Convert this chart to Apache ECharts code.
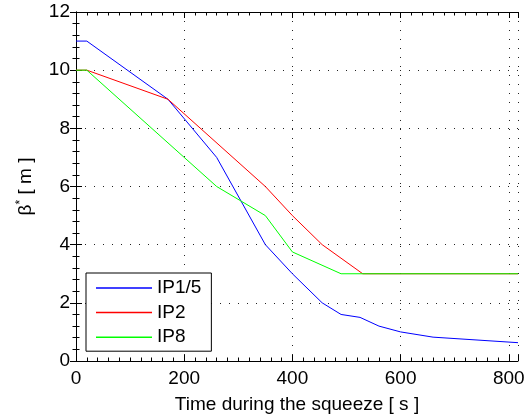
<!DOCTYPE html>
<html>
<head>
<meta charset="utf-8">
<script src="https://cdn.jsdelivr.net/npm/echarts@6/dist/echarts.min.js"></script>
<style>
    html, body { margin: 0; padding: 0; background: #fff; }
    #chart { width: 529px; height: 419px; }
</style>
</head>
<body>
<div id="chart"></div>
<script>
// beta* during the squeeze, [time s, beta* m]
var ip15 = [[0, 11], [20, 11], [170, 9], [260, 7], [350, 4], [400, 3], [455, 2], [490, 1.6], [525, 1.5], [560, 1.2], [600, 1.0], [660, 0.82], [817, 0.63]];
var ip2 = [[0, 10], [20, 10], [170, 9], [350, 6], [400, 5], [455, 4], [530, 3], [817, 3]];
var ip8 = [[0, 10], [20, 10], [260, 6], [350, 5], [400, 3.75], [490, 3], [817, 3]];
var seriesNames = ['IP1/5', 'IP2', 'IP8'];
var xTicks = [0, 200, 400, 600, 800];
var yTicks = [0, 2, 4, 6, 8, 10, 12];

var chart = echarts.init(document.getElementById('chart'));

var fontFam = 'Liberation Sans, Arial, sans-serif';
var fs = 19;

var axisX = function (show) {
    return {
        type: 'value',
        min: 0,
        max: 817,
        interval: 200,
        position: show ? 'bottom' : 'top',
        name: show ? 'Time during the squeeze [ s ]' : '',
        nameLocation: 'middle',
        nameGap: 34,
        nameTextStyle: { color: '#000', fontSize: fs, fontFamily: fontFam },
        axisLine: { show: true, onZero: false, lineStyle: { color: '#000', width: 1 } },
        axisTick: { show: true, inside: true, length: 6, lineStyle: { color: '#000' } },
        minorTick: { show: true, splitNumber: 10, length: 3.5, lineStyle: { color: '#000' } },
        axisLabel: {
            show: show, color: '#000', fontSize: fs, fontFamily: fontFam, margin: 8,
            formatter: function (v) { return xTicks.indexOf(v) >= 0 ? v : ''; }
        },
        splitLine: { show: show, lineStyle: { color: '#222', type: [1, 8], width: 1 } }
    };
};

var axisY = function (show) {
    return {
        type: 'value',
        min: 0,
        max: 12,
        interval: 2,
        position: show ? 'left' : 'right',
        name: show ? '{b|β}{s|*}{b| [ m ]}' : '',
        nameLocation: 'middle',
        nameGap: 40,
        nameTextStyle: {
            rich: {
                b: { color: '#000', fontSize: fs, fontFamily: fontFam },
                s: { color: '#000', fontSize: 12, fontFamily: fontFam, verticalAlign: 'top', padding: [0, 0, 9, 0] }
            }
        },
        axisLine: { show: true, lineStyle: { color: '#000', width: 1 } },
        axisTick: { show: true, inside: true, length: 6, lineStyle: { color: '#000' } },
        minorTick: { show: true, splitNumber: 5, length: 3.5, lineStyle: { color: '#000' } },
        axisLabel: {
            show: show, color: '#000', fontSize: fs, fontFamily: fontFam, margin: 6,
            formatter: function (v) { return yTicks.indexOf(v) >= 0 ? v : ''; }
        },
        splitLine: { show: show, lineStyle: { color: '#222', type: [1, 8], width: 1 } }
    };
};

var mkSeries = function (name, data, color) {
    return {
        name: name,
        type: 'line',
        data: data,
        symbol: 'none',
        animation: false,
        lineStyle: { color: color, width: 1 },
        itemStyle: { color: color }
    };
};

var option = {
    backgroundColor: '#fff',
    animation: false,
    grid: { left: 76, right: 11, top: 12, bottom: 57 },
    xAxis: [axisX(true), axisX(false)],
    yAxis: [axisY(true), axisY(false)],
    legend: {
        orient: 'vertical',
        left: 86,
        top: 273,
        data: seriesNames,
        icon: 'rect',
        itemWidth: 56,
        itemHeight: 1.5,
        itemGap: 4.6,
        padding: [5, 10, 4, 10],
        borderColor: '#000',
        borderWidth: 1,
        backgroundColor: '#fff',
        textStyle: { color: '#000', fontSize: fs, lineHeight: 20, fontFamily: fontFam }
    },
    series: [
        mkSeries(seriesNames[0], ip15, '#0000ff'),
        mkSeries(seriesNames[1], ip2, '#ff0000'),
        mkSeries(seriesNames[2], ip8, '#00ff00')
    ]
};

chart.setOption(option);
</script>
</body>
</html>
